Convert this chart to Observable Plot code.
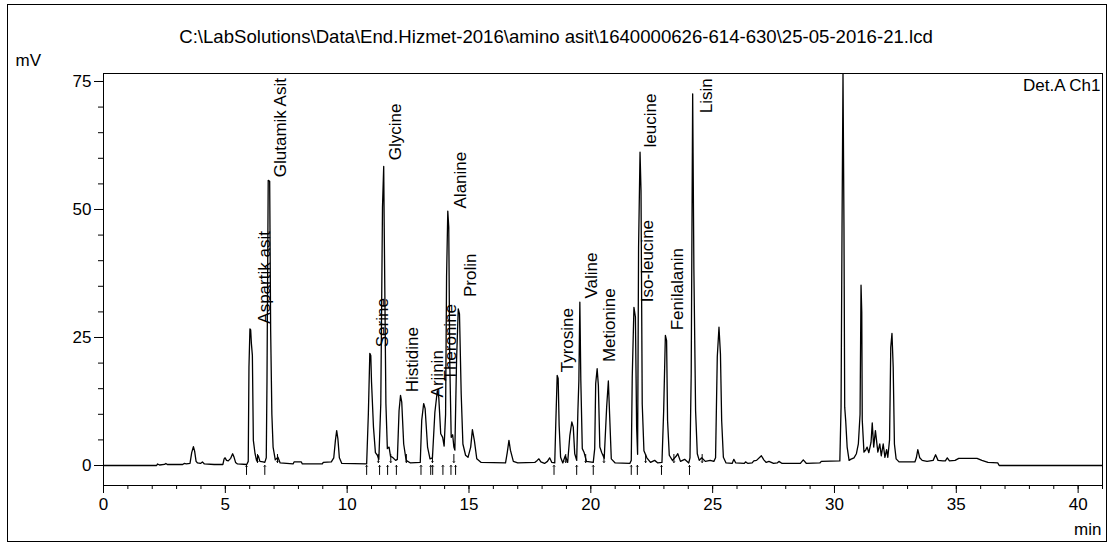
<!DOCTYPE html>
<html><head><meta charset="utf-8">
<script src="https://cdn.jsdelivr.net/npm/d3@7"></script>
<script src="https://cdn.jsdelivr.net/npm/@observablehq/plot@0.6"></script>
<style>
html,body{margin:0;padding:0;background:#fff;}
#wrap{position:relative;width:1109px;height:542px;overflow:hidden;}
#border{position:absolute;left:7px;top:4px;width:1100px;height:538px;box-sizing:border-box;border:1px solid #000;pointer-events:none;}
#chart{position:absolute;left:0;top:0;}
</style></head><body>
<div id="wrap"><div id="chart"></div><div id="border"></div></div>
<script>
// ---- data ----
const title = "C:\\LabSolutions\\Data\\End.Hizmet-2016\\amino asit\\1640000626-614-630\\25-05-2016-21.lcd";
const xUnit = "min";
const yUnit = "mV";
const channel = "Det.A Ch1";

const xMajorTicks = [0, 5, 10, 15, 20, 25, 30, 35, 40];
const xMinorTicks = [0,1,2,3,4,5,6,7,8,9,10,11,12,13,14,15,16,17,18,19,20,21,22,23,24,25,26,27,28,29,30,31,32,33,34,35,36,37,38,39,40,41];
const yMajorTicks = [0, 25, 50, 75];
const yMinorTicks = [0,5,10,15,20,25,30,35,40,45,50,55,60,65,70,75];

const time = [0,2.18,2.22,2.30,2.50,2.56,2.62,3.25,3.31,3.40,3.55,3.62,3.69,3.74,3.80,3.86,3.98,4.06,4.14,4.54,4.90,4.95,4.99,5.05,5.12,5.22,5.30,5.36,5.42,5.50,
5.88,5.94,5.97,6.01,6.04,6.07,6.11,6.15,6.22,6.28,6.35,6.42,6.55,6.62,6.68,6.71,6.76,6.82,6.86,6.91,6.96,7.05,7.16,7.25,7.78,7.82,8.12,8.16,8.98,9.02,9.35,9.45,9.52,9.57,9.62,9.68,9.78,
10.80,10.87,10.93,10.97,11.00,11.08,11.16,11.24,11.30,11.38,11.45,11.50,11.52,11.55,11.59,11.65,11.72,11.78,11.86,11.99,12.06,12.13,12.19,12.24,12.32,12.42,12.60,
13.00,13.06,13.14,13.20,13.30,13.40,13.50,13.60,13.70,13.76,13.84,13.92,13.98,14.04,14.08,14.13,14.17,14.21,14.27,14.33,14.38,14.42,14.49,14.56,14.61,14.68,14.75,14.86,14.96,
15.07,15.14,15.22,15.32,15.50,16.50,16.57,16.64,16.70,16.82,17.00,17.70,17.80,17.87,17.95,18.10,18.22,18.31,18.40,18.52,18.56,18.62,18.66,18.70,18.76,18.85,18.95,19.05,
19.14,19.22,19.28,19.34,19.42,19.47,19.51,19.55,19.59,19.65,19.72,19.82,20.10,20.16,20.20,20.26,20.31,20.37,20.45,20.55,20.65,20.72,20.77,20.84,21.00,
21.60,21.66,21.70,21.77,21.83,21.88,21.92,21.96,22.02,22.06,22.11,22.18,22.30,22.45,22.62,22.75,22.92,22.99,23.06,23.11,23.15,23.22,23.35,23.50,23.57,23.68,23.85,
24.02,24.07,24.12,24.18,24.23,24.30,24.37,24.45,24.55,24.70,24.90,25.05,25.12,25.19,25.26,25.32,25.37,25.44,25.55,25.80,25.87,25.95,26.30,26.35,26.45,26.62,26.69,26.80,
27.00,27.10,27.20,27.31,27.50,27.65,27.72,27.85,28.60,28.72,28.85,29.40,29.46,30.22,30.27,30.31,30.35,30.39,30.42,30.46,30.52,30.60,30.66,30.80,30.90,30.98,
31.05,31.09,31.12,31.14,31.21,31.28,31.34,31.41,31.50,31.55,31.61,31.68,31.78,31.86,31.92,32.00,32.07,32.14,32.19,32.26,32.31,32.36,32.41,32.46,32.53,32.65,
33.30,33.36,33.42,33.50,33.60,33.80,34.05,34.15,34.25,34.45,34.55,34.63,34.72,34.95,35.10,35.85,36.05,36.30,36.70,36.76,41.00];

const signal = [0,0,0.3,0.1,0.2,0.4,0.2,0.2,0.4,0.3,0.4,2.5,3.7,2.8,0.8,0.5,0.4,0.7,0.3,0.2,0.2,1.3,1.5,1.0,0.9,1.4,2.3,1.6,0.6,0.3,
0.2,0.8,19.2,26.7,26.5,23.8,21.5,4.9,2.3,1.0,1.9,0.8,0.7,0.6,1.5,16.6,55.7,55.5,26.4,10,3.6,1.1,1.6,0.5,0.3,0.7,0.7,0.3,0.3,0.6,0.7,1.5,5.0,6.8,5.2,1.5,0.4,
0.3,10.1,21.9,21.5,16.3,7.5,2.5,2.0,1.2,12.0,50.5,58.4,47,32.2,12.1,3.3,3.6,1.8,1.6,1.0,1.2,10.7,13.7,12.4,4.2,1.0,0.5,
0.6,8.8,12.1,11.1,3.6,1.3,1.5,10.4,14.6,13.3,6.2,5.5,3.8,10,36.8,49.7,46.5,20.5,5.5,6.0,3.6,3.0,20.5,30.6,29.6,14.0,4.2,2.0,1.6,
3.6,7.0,4.9,1.3,0.6,0.5,2.5,4.9,3.0,0.8,0.5,0.6,1.0,1.3,0.7,0.4,0.8,1.5,0.6,0.5,7.8,17.6,17.0,7.8,1.6,0.5,1.9,0.6,
5.9,8.5,7.5,2.3,1.0,10.7,16.6,31.9,16.6,3.3,2.6,0.8,0.6,3.3,16.0,18.9,15.6,3.6,2.5,1.4,11.4,16.5,10.1,1.3,0.5,
0.4,1.0,17.2,30.9,29.0,7.5,2.2,42.6,61.2,53.7,12.0,2.9,1.5,0.6,1.0,0.5,0.6,10.7,25.4,24.4,8.8,2.0,1.0,1.8,2.3,0.8,1.2,
0.5,1.5,17.9,72.6,38.4,10.7,2.3,1.0,1.5,0.8,1.0,0.8,1.5,21.2,27.0,21.8,8.8,1.6,0.5,0.4,1.2,0.5,0.4,0.7,0.4,0.5,0.9,1.0,
1.9,1.1,0.6,0.8,0.4,0.5,0.8,0.4,0.4,1.1,0.4,0.5,0.8,0.9,11.4,46.5,76.5,46.5,11.4,8.8,3.6,1.0,1.2,1.5,2.3,4.2,
10.0,35.2,30.0,8.9,2.6,3.0,3.6,2.5,4.5,8.3,3.6,6.8,2.6,4.2,1.9,4.2,1.6,3.1,1.6,5.0,23.1,25.8,19.2,4.2,1.3,0.7,
0.7,1.5,3.1,1.5,1.0,0.8,1.0,2.1,1.0,0.9,0.9,1.5,0.9,1.0,1.4,1.4,1.0,0.6,0.5,0.0,0.0];

const labelNames = ["Aspartik asit","Glutamik Asit","Serine","Glycine","Histidine","Arjinin","Theronine","Alanine","Prolin","Tyrosine","Valine","Metionine","Iso-leucine","leucine","Fenilalanin","Lisin"];
const labelTimes = [6.59, 7.27, 11.45, 11.99, 12.70, 13.70, 14.25, 14.66, 15.07, 19.04, 20.02, 20.78, 22.32, 22.45, 23.55, 24.74];
const labelMv    = [27.7, 56.3, 23.1, 59.6, 14.3, 13.3, 16.6, 50.2, 32.9, 18.2, 32.6, 20.2, 31.9, 62.1, 26.4, 68.8];

const peakStarts = [5.87, 6.62, 10.80, 11.33, 11.66, 12.02, 13.03, 13.43, 13.51, 13.93, 14.26, 14.45, 18.49, 19.42, 20.10, 21.66, 21.91, 22.90, 24.05];
const peakEnds = [6.32, 7.14, 11.28, 11.79, 12.43, 13.50, 14.38, 18.97, 19.79, 20.54, 22.25, 23.41, 24.57];

// ---- build ----
const trace = time.map((t, i) => ({t, v: signal[i]}));
const labels = labelNames.map((name, i) => ({name, t: labelTimes[i], v: labelMv[i]}));
const font = "'Liberation Sans', Arial, sans-serif";

const chart = Plot.plot({
  width: 1109,
  height: 542,
  marginLeft: 103,
  marginRight: 7,
  marginTop: 73,
  marginBottom: 57,
  x: {domain: [0, 41]},
  y: {domain: [-3.906, 76.56]},
  style: {fontFamily: font, fontSize: "17px", color: "#000", background: "transparent", overflow: "visible"},
  marks: [
    Plot.frame({stroke: "#000"}),
    Plot.axisX({ticks: xMinorTicks, tickSize: 4, tickFormat: () => "", label: null, stroke: "#000"}),
    Plot.axisX({ticks: xMajorTicks, tickSize: 8, tickPadding: 4, label: null, fontSize: 17, stroke: "#000", fill: "#000"}),
    Plot.axisY({ticks: yMinorTicks, tickSize: 5, tickFormat: () => "", label: null, stroke: "#000"}),
    Plot.axisY({ticks: yMajorTicks, tickSize: 9, tickPadding: 3, label: null, fontSize: 17, stroke: "#000", fill: "#000"}),
    Plot.line(trace, {x: "t", y: "v", stroke: "#000", strokeWidth: 1.3, clip: true}),
    Plot.vector(peakStarts, {x: d => d, y: 0, length: 9, rotate: 0, anchor: "end", r: 1.5, stroke: "#000", strokeWidth: 1}),
    Plot.vector(peakEnds, {x: d => d, y: 0.6, length: 8, rotate: 180, anchor: "end", r: 1.5, stroke: "#000", strokeWidth: 1}),
    Plot.text(labels, {x: "t", y: "v", text: "name", rotate: -90, textAnchor: "start", lineAnchor: "middle", fontSize: 17, fill: "#000"}),
    Plot.text([title], {frameAnchor: "top", dx: -47, dy: -36, lineAnchor: "middle", fontSize: 18.6, fill: "#000"}),
    Plot.text([yUnit], {frameAnchor: "top-left", dx: -88, dy: -13, textAnchor: "start", lineAnchor: "middle", fontSize: 17, fill: "#000"}),
    Plot.text([channel], {frameAnchor: "top-right", dx: -2, dy: 12, textAnchor: "end", lineAnchor: "middle", fontSize: 17, fill: "#000"}),
    Plot.text([xUnit], {frameAnchor: "bottom-right", dx: -1, dy: 44, textAnchor: "end", lineAnchor: "middle", fontSize: 17, fill: "#000"})
  ]
});
document.getElementById("chart").appendChild(chart);
</script></body></html>
